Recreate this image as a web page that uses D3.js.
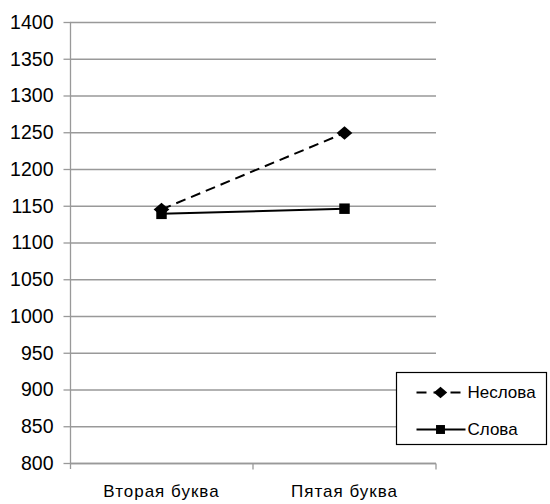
<!doctype html>
<html lang="ru">
<head>
<meta charset="utf-8">
<title>Неслова / Слова</title>
<script src="https://d3js.org/d3.v7.min.js"></script>
<style>
  body { margin: 0; background: #fff; }
  svg { display: block; }
  svg text { font-family: "Liberation Sans", Arial, sans-serif; fill: #000; }
  .grid line { stroke: #999; stroke-width: 1.3; }
  .axis path, .axis line { stroke: #999; stroke-width: 1.3; }
  .yax text { font-size: 19.5px; }
  .xax text { font-size: 17px; letter-spacing: 1px; }
  .legend text { font-size: 17px; }
</style>
</head>
<body>
<svg id="chart" width="550" height="504"></svg>
<script>
  // data
  const categories = ["Вторая буква", "Пятая буква"];
  const yTicks = [800, 850, 900, 950, 1000, 1050, 1100, 1150, 1200, 1250, 1300, 1350, 1400];
  const nonwords = [1145, 1249];   // Неслова
  const words = [1139, 1146];      // Слова

  // flat diamond like the original marker
  const diamond = {
    draw(ctx, size) {
      const w = Math.sqrt(size) * 0.75, h = w * 0.85;
      ctx.moveTo(0, -h); ctx.lineTo(w, 0); ctx.lineTo(0, h); ctx.lineTo(-w, 0); ctx.closePath();
    }
  };

  const series = [
    { name: "Неслова", values: nonwords, dash: "10,6", marker: diamond, size: 110 },
    { name: "Слова", values: words, dash: null, marker: d3.symbolSquare, size: 110 }
  ];

  const svg = d3.select("#chart");
  const mLeft = 70, mRight = 436, mTop = 22, mBottom = 463;

  const x = d3.scaleBand().domain(categories).range([mLeft, mRight]);
  const y = d3.scaleLinear().domain([800, 1400]).range([mBottom, mTop]);

  // gridlines
  svg.append("g").attr("class", "grid")
    .selectAll("line").data(yTicks).join("line")
      .attr("x1", mLeft).attr("x2", mRight)
      .attr("y1", d => y(d) + 0.5).attr("y2", d => y(d) + 0.5);

  // y axis
  const yAxis = svg.append("g").attr("class", "axis yax")
    .attr("transform", "translate(" + (mLeft + 0.5) + ",0)")
    .call(d3.axisLeft(y).tickValues(yTicks).tickSize(7).tickSizeOuter(0).tickPadding(10).tickFormat(d3.format("d")));
  yAxis.attr("font-family", null).attr("font-size", null);
  yAxis.select(".domain").attr("d", "M0," + mTop + "V" + (mBottom + 6));

  // x axis
  const xAxis = svg.append("g").attr("class", "axis xax")
    .attr("transform", "translate(0," + (mBottom + 0.5) + ")");
  xAxis.append("path").attr("d", "M" + mLeft + ",0H" + mRight);
  xAxis.selectAll("line.tk").data(x.domain().slice(1).concat(["end"])).join("line")
    .attr("x1", d => d === "end" ? mRight : x(d)).attr("x2", d => d === "end" ? mRight : x(d))
    .attr("y1", 0).attr("y2", 6);
  xAxis.selectAll("text").data(categories).join("text")
    .attr("x", d => x(d) + x.bandwidth() / 2)
    .attr("y", 33)
    .attr("text-anchor", "middle")
    .text(d => d);

  const cx = i => x(categories[i]) + x.bandwidth() / 2;
  const line = d3.line().x((d, i) => cx(i)).y(d => y(d));

  series.forEach(s => {
    svg.append("path")
      .datum(s.values)
      .attr("fill", "none")
      .attr("stroke", "#000")
      .attr("stroke-width", 2)
      .attr("stroke-dasharray", s.dash)
      .attr("d", line);
  });
  // markers (squares drawn after diamonds, like the original)
  series.forEach(s => {
    svg.append("g").selectAll("path").data(s.values).join("path")
      .attr("transform", (d, i) => "translate(" + cx(i) + "," + y(d) + ")")
      .attr("d", d3.symbol().type(s.marker).size(s.size))
      .attr("fill", "#000");
  });

  // legend
  const lg = svg.append("g").attr("class", "legend").attr("transform", "translate(396.5,372.5)");
  lg.append("rect").attr("width", 150).attr("height", 72)
    .attr("fill", "#fff").attr("stroke", "#000").attr("stroke-width", 1.2);
  series.forEach((s, i) => {
    const ly = 20 + i * 37;
    lg.append("line").attr("x1", 20).attr("x2", 69).attr("y1", ly).attr("y2", ly)
      .attr("stroke", "#000").attr("stroke-width", 2)
      .attr("stroke-dasharray", s.dash ? "10,7" : null);
    lg.append("path").attr("transform", "translate(44," + ly + ")")
      .attr("d", d3.symbol().type(s.marker).size(80))
      .attr("fill", "#000");
    lg.append("text").attr("x", 71).attr("y", ly).attr("dy", "0.35em").text(s.name);
  });
</script>
</body>
</html>
